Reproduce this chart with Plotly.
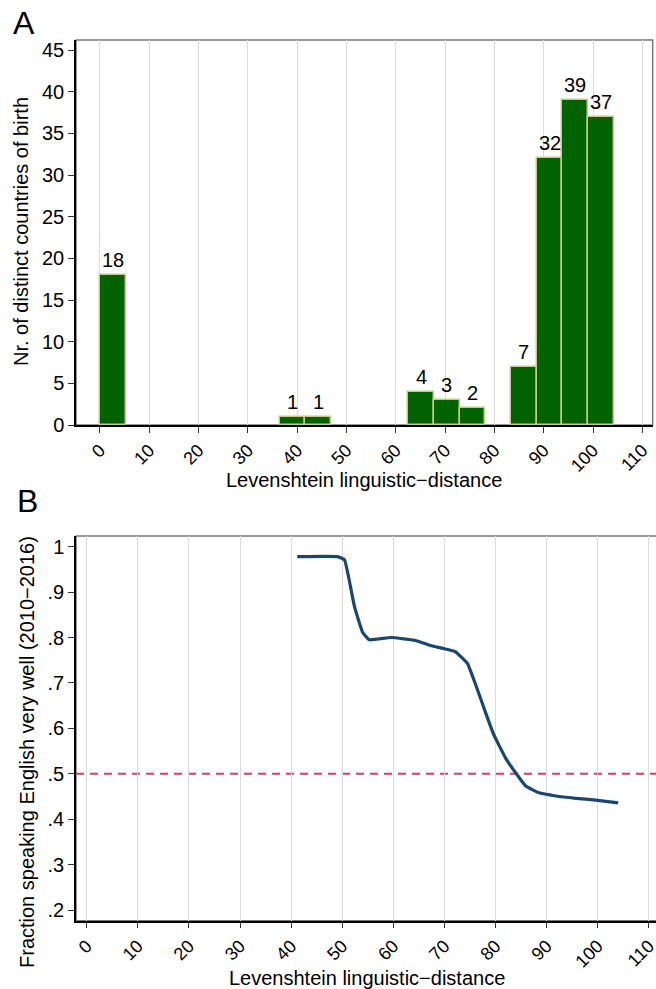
import plotly.graph_objects as go

# ---- Data: panel A (histogram of countries by Levenshtein distance) ----
bin_width = 5.21
bin_index = [0, 7, 8, 12, 13, 14, 16, 17, 18, 19]
counts = [18, 1, 1, 4, 3, 2, 7, 32, 39, 37]

# ---- Data: panel B (smoothed fraction speaking English very well) ----
dist_b = [41.2, 49.1, 50.45, 52.4, 54.0, 55.3, 59.6, 64.5, 67.1, 69.7, 72.1,
          74.5, 76.5, 78.1, 79.7, 82.0, 84.0, 85.9, 88.5, 91.8, 95.7, 99.6, 104.0]
frac_b = [0.978, 0.978, 0.971, 0.868, 0.811, 0.795, 0.800, 0.793, 0.783, 0.776, 0.769,
          0.743, 0.684, 0.633, 0.585, 0.534, 0.501, 0.473, 0.458, 0.451, 0.446, 0.442, 0.436]
threshold = 0.5

x_ticks = [0, 10, 20, 30, 40, 50, 60, 70, 80, 90, 100, 110]
y_ticks_a = [0, 5, 10, 15, 20, 25, 30, 35, 40, 45]
y_ticks_b = [0.2, 0.3, 0.4, 0.5, 0.6, 0.7, 0.8, 0.9, 1.0]
y_ticklabels_b = [".2", ".3", ".4", ".5", ".6", ".7", ".8", ".9", "1"]

W, H = 656, 989
FONT = "Liberation Sans, Arial, Helvetica, sans-serif"
FS = 20
FSX = 18

def px(v):
    return v / W

def py(v):
    return 1 - v / H

fig = go.Figure()

bar_x = [(i + 0.5) * bin_width for i in bin_index]
fig.add_trace(go.Bar(
    x=bar_x, y=counts, width=bin_width,
    marker=dict(color="#006200", line=dict(color="#c8c88e", width=1.5)),
    xaxis="x", yaxis="y", showlegend=False, hoverinfo="skip",
))

# count labels above bars
for bx, c in zip(bar_x, counts):
    fig.add_annotation(x=bx, y=c, xref="x", yref="y", text=str(c), showarrow=False,
                       xanchor="center", yanchor="bottom", yshift=2,
                       font=dict(size=FS, family=FONT, color="black"))

fig.add_trace(go.Scatter(
    x=dist_b, y=frac_b, mode="lines",
    line=dict(color="#1a476f", width=3.2, shape="spline", smoothing=0.3),
    xaxis="x2", yaxis="y2", showlegend=False, hoverinfo="skip",
))

axis_common = dict(
    showgrid=True, gridcolor="#dcdcdc", gridwidth=1, zeroline=False,
    showline=True, linecolor="black", linewidth=1.5,
    ticks="outside", ticklen=6, tickcolor="#333333",
    automargin=False, ticklabeloverflow="allow",
)
xfont = dict(tickfont=dict(size=FSX, family=FONT, color="black"))
yfont = dict(tickfont=dict(size=FS, family=FONT, color="black"))

fig.update_layout(
    width=W, height=H,
    margin=dict(l=0, r=0, t=0, b=0),
    paper_bgcolor="white", plot_bgcolor="white",
    font=dict(family=FONT, color="black"),
    bargap=0,
    xaxis=dict(domain=[px(76), px(652.7)], range=[-4.86, 112.1],
               tickvals=x_ticks, tickangle=-45, anchor="y", **axis_common, **xfont),
    yaxis=dict(domain=[py(425), py(40)], range=[0, 46.2],
               tickvals=y_ticks_a, anchor="x", **{**axis_common, "showgrid": False}, **yfont),
    xaxis2=dict(domain=[px(76), 1.0], range=[-2.09, 111.4],
                tickvals=x_ticks, tickangle=-45, anchor="y2", **axis_common, **xfont),
    yaxis2=dict(domain=[py(920.7), py(536)], range=[0.1765, 1.0235],
                tickvals=y_ticks_b, ticktext=y_ticklabels_b, anchor="x2",
                **{**axis_common, "showgrid": False}, **yfont),
)

# gray frame (top/right) for both panels
fig.add_shape(type="rect", xref="x domain", yref="y domain", x0=0, x1=1, y0=0, y1=1,
              line=dict(color="#777777", width=1.5), layer="below")
fig.add_shape(type="rect", xref="x2 domain", yref="y2 domain", x0=0, x1=1.01, y0=0, y1=1,
              line=dict(color="#777777", width=1.5), layer="below")

# threshold dashed line
fig.add_shape(type="line", xref="x2 domain", yref="y2", x0=0, x1=1, y0=threshold, y1=threshold,
              line=dict(color="#d4406a", width=2, dash="8px,6px"), layer="below")

ann = [
    dict(text="A", x=px(24), y=py(23), size=32),
    dict(text="B", x=px(27), y=py(501), size=32),
    dict(text="Levenshtein linguistic\u2212distance", x=px(364), y=py(480), size=FS),
    dict(text="Levenshtein linguistic\u2212distance", x=px(367), y=py(978), size=FS),
]
for a in ann:
    fig.add_annotation(text=a["text"], x=a["x"], y=a["y"], xref="paper", yref="paper",
                       showarrow=False, xanchor="center", yanchor="middle",
                       font=dict(size=a["size"], family=FONT, color="black"))

fig.add_annotation(text="Nr. of distinct countries of birth", x=px(21), y=py(232),
                   xref="paper", yref="paper", showarrow=False, textangle=-90,
                   xanchor="center", yanchor="middle",
                   font=dict(size=FS, family=FONT, color="black"))
fig.add_annotation(text="Fraction speaking English very well (2010\u22122016)", x=px(27), y=py(752),
                   xref="paper", yref="paper", showarrow=False, textangle=-90,
                   xanchor="center", yanchor="middle",
                   font=dict(size=FS, family=FONT, color="black"))

fig.write_html("out.html", config={"displayModeBar": False},
               post_script="document.body.style.margin='0';document.body.style.overflow='hidden';")
